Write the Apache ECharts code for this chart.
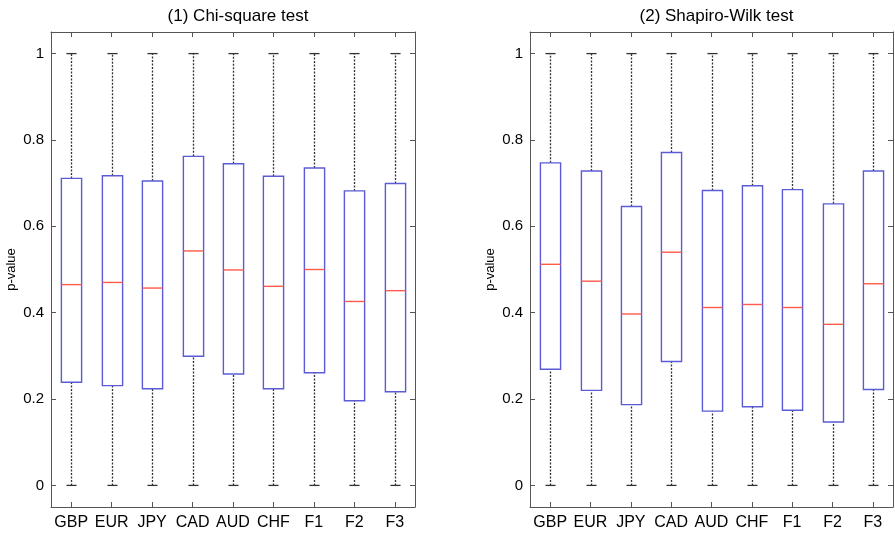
<!DOCTYPE html>
<html>
<head>
<meta charset="utf-8">
<script src="https://cdn.jsdelivr.net/npm/echarts@6/dist/echarts.min.js"></script>
<style>html,body{margin:0;padding:0;background:#fff}#c{width:895px;height:535px}</style>
</head>
<body>
<div id="c"></div>
<script>
const categories = ['GBP','EUR','JPY','CAD','AUD','CHF','F1','F2','F3'];
const yTicks = [0, 0.2, 0.4, 0.6, 0.8, 1];
const titles = ['(1) Chi-square test', '(2) Shapiro-Wilk test'];

// Chi-square test
const chiMin = [0,0,0,0,0,0,0,0,0];
const chiQ1  = [0.239,0.231,0.224,0.299,0.258,0.224,0.261,0.196,0.217];
const chiMed = [0.465,0.470,0.457,0.543,0.499,0.461,0.500,0.426,0.451];
const chiQ3  = [0.711,0.717,0.705,0.762,0.745,0.716,0.735,0.682,0.699];
const chiMax = [1,1,1,1,1,1,1,1,1];

// Shapiro-Wilk test
const swMin = [0,0,0,0,0,0,0,0,0];
const swQ1  = [0.269,0.220,0.187,0.287,0.172,0.182,0.174,0.147,0.222];
const swMed = [0.512,0.473,0.397,0.540,0.412,0.419,0.412,0.373,0.467];
const swQ3  = [0.747,0.728,0.646,0.771,0.683,0.694,0.685,0.652,0.728];
const swMax = [1,1,1,1,1,1,1,1,1];

function rows(mn, q1, md, q3, mx) {
  return categories.map((c, i) => [i, mn[i], q1[i], md[i], q3[i], mx[i]]);
}

const FONT = 'Liberation Sans, Arial, Helvetica, sans-serif';
const FRAME = '#555';
const BLUE = '#5b5bd6';
const RED = '#ff5a4a';
const WHISK = '#333';
const TXT = '#000';

function renderBox(params, api) {
  const x = api.value(0);
  const band = api.size([1, 0])[0];
  const bw = band * 0.5, cw = band * 0.25;
  const pMin = api.coord([x, api.value(1)]);
  const pQ1 = api.coord([x, api.value(2)]);
  const pMed = api.coord([x, api.value(3)]);
  const pQ3 = api.coord([x, api.value(4)]);
  const pMax = api.coord([x, api.value(5)]);
  const cx = Math.round(pMin[0]) + 0.5;
  const dash = {stroke: WHISK, lineWidth: 1.3, lineDash: [2, 1.5]};
  const solid = {stroke: WHISK, lineWidth: 1.3};
  return {
    type: 'group',
    children: [
      {type: 'line', shape: {x1: cx, y1: pQ3[1], x2: cx, y2: pMax[1]}, style: dash},
      {type: 'line', shape: {x1: cx, y1: pMin[1], x2: cx, y2: pQ1[1]}, style: dash},
      {type: 'line', shape: {x1: cx - cw / 2, y1: pMax[1], x2: cx + cw / 2, y2: pMax[1]}, style: solid},
      {type: 'line', shape: {x1: cx - cw / 2, y1: pMin[1], x2: cx + cw / 2, y2: pMin[1]}, style: solid},
      {type: 'rect', shape: {x: cx - bw / 2, y: pQ3[1], width: bw, height: pQ1[1] - pQ3[1]},
        style: {fill: null, stroke: BLUE, lineWidth: 1.4}},
      {type: 'line', shape: {x1: cx - bw / 2, y1: pMed[1], x2: cx + bw / 2, y2: pMed[1]},
        style: {stroke: RED, lineWidth: 1.4}}
    ]
  };
}

const grids = [
  {left: 51, right: 480, top: 32, bottom: 28},
  {left: 530, right: 2, top: 32, bottom: 28}
];

const xAxes = [], yAxes = [], series = [], titleOpts = [];
const datasets = [rows(chiMin, chiQ1, chiMed, chiQ3, chiMax), rows(swMin, swQ1, swMed, swQ3, swMax)];

grids.forEach((g, gi) => {
  const centerX = g.left + (895 - g.left - g.right) / 2;
  titleOpts.push({
    text: titles[gi], left: centerX, top: 3, textAlign: 'center',
    textStyle: {fontFamily: FONT, fontSize: 17, fontWeight: 'normal', color: TXT}
  });
  // bottom x axis
  xAxes.push({
    type: 'category', gridIndex: gi, data: categories, position: 'bottom',
    axisLine: {show: true, onZero: false, lineStyle: {color: FRAME, width: 1}},
    axisTick: {show: true, inside: true, alignWithLabel: true, length: 5, lineStyle: {color: FRAME}},
    axisLabel: {fontFamily: FONT, fontSize: 16, color: TXT, margin: 8, interval: 0},
    splitLine: {show: false}
  });
  // top x axis (frame)
  xAxes.push({
    type: 'category', gridIndex: gi, data: categories, position: 'top',
    axisLine: {show: true, onZero: false, lineStyle: {color: FRAME, width: 1}},
    axisTick: {show: true, inside: true, alignWithLabel: true, length: 5, lineStyle: {color: FRAME}},
    axisLabel: {show: false}, splitLine: {show: false}
  });
  // left y axis
  yAxes.push({
    type: 'value', gridIndex: gi, min: -0.05, max: 1.05, position: 'left',
    name: 'p-value', nameLocation: 'middle', nameGap: 33,
    nameTextStyle: {fontFamily: FONT, fontSize: 13, color: TXT},
    axisLine: {show: true, onZero: false, lineStyle: {color: FRAME, width: 1}},
    axisTick: {show: true, inside: true, length: 5, customValues: yTicks, lineStyle: {color: FRAME}},
    axisLabel: {fontFamily: FONT, fontSize: 15, color: TXT, margin: 7, customValues: yTicks,
      formatter: v => String(Math.round(v * 10) / 10)},
    splitLine: {show: false}
  });
  // right y axis (frame)
  yAxes.push({
    type: 'value', gridIndex: gi, min: -0.05, max: 1.05, position: 'right',
    axisLine: {show: true, onZero: false, lineStyle: {color: FRAME, width: 1}},
    axisTick: {show: true, inside: true, length: 5, customValues: yTicks, lineStyle: {color: FRAME}},
    axisLabel: {show: false}, splitLine: {show: false}
  });
  series.push({
    type: 'custom', xAxisIndex: gi * 2, yAxisIndex: gi * 2,
    data: datasets[gi], renderItem: renderBox, clip: false,
    encode: {x: 0, y: [1, 2, 3, 4, 5]}, silent: true
  });
});

const chart = echarts.init(document.getElementById('c'), null, {renderer: 'canvas'});
chart.setOption({
  backgroundColor: '#fff',
  animation: false,
  title: titleOpts,
  grid: grids,
  xAxis: xAxes,
  yAxis: yAxes,
  series: series
});
</script>
</body>
</html>
